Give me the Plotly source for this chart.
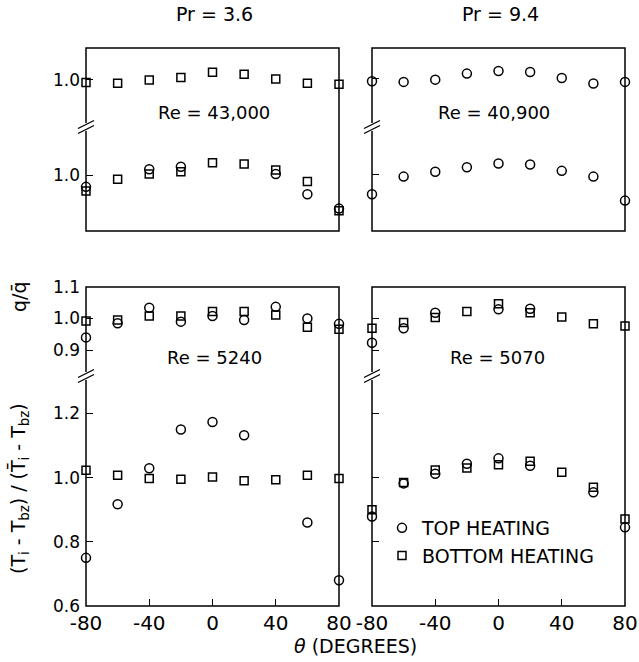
import plotly.graph_objects as go

# Angular position around the tube (degrees)
theta = [-80, -60, -40, -20, 0, 20, 40, 60, 80]

# Pr = 3.6, Re = 43,000
q_bottom_43000 = [0.992, 0.99, 1.00, 1.008, 1.024, 1.018, 1.003, 0.99, 0.987]
t_top_43000 = [0.963, None, 1.018, 1.026, None, None, 1.003, 0.94, 0.895]
t_bottom_43000 = [0.95, 0.987, 1.003, 1.01, 1.038, 1.034, 1.016, 0.98, 0.888]

# Pr = 9.4, Re = 40,900
q_top_40900 = [0.99, 0.988, 0.995, 1.014, 1.022, 1.019, 1.0, 0.983, 0.988]
t_top_40900 = [0.937, 0.992, 1.007, 1.021, 1.033, 1.030, 1.01, 0.992, 0.917]

# Pr = 3.6, Re = 5240
q_top_5240 = [0.94, 0.985, 1.034, 0.99, 1.008, 0.995, 1.037, 1.0, 0.983]
q_bottom_5240 = [0.992, 0.995, 1.008, 1.008, 1.022, 1.022, 1.011, 0.972, 0.966]
t_top_5240 = [0.75, 0.917, 1.029, 1.15, 1.173, 1.132, None, 0.86, 0.68]
t_bottom_5240 = [1.023, 1.007, 0.997, 0.995, 1.002, 0.99, 0.993, 1.007, 0.997]

# Pr = 9.4, Re = 5070
q_top_5070 = [0.923, 0.969, 1.018, None, 1.029, 1.031, None, None, None]
q_bottom_5070 = [0.969, 0.987, 1.003, 1.022, 1.047, 1.018, 1.005, 0.983, 0.976]
t_top_5070 = [0.879, 0.982, 1.012, 1.043, 1.06, 1.037, None, 0.954, 0.845]
t_bottom_5070 = [0.9, 0.985, 1.024, 1.03, 1.04, 1.051, 1.017, 0.97, 0.871]

x_ticks = [-80, -40, 0, 40, 80]
x_ticktext = ["-80", "-40", "0", "40", "80"]

W, H = 639, 662
FONT = "DejaVu Sans"


def px(x):
    return x / W


def py(y):
    return 1 - y / H


LX = (86, 339)
RX = (372, 625)
TOP = (48, 231)
TOP_BREAK = 127
BOT = (287, 606)
BOT_BREAK = 376

fig = go.Figure()

circle = dict(symbol="circle-open", size=9, color="black", line=dict(width=1.5, color="black"))
square = dict(symbol="square-open", size=8, color="black", line=dict(width=1.5, color="black"))

series = [
    # (values, marker, xaxis, yaxis, legend name)
    (q_bottom_43000, square, "x3", "y6", None),
    (t_top_43000, circle, "x3", "y5", None),
    (t_bottom_43000, square, "x3", "y5", None),
    (q_top_40900, circle, "x4", "y8", None),
    (t_top_40900, circle, "x4", "y7", None),
    (q_top_5240, circle, "x", "y2", None),
    (q_bottom_5240, square, "x", "y2", None),
    (t_top_5240, circle, "x", "y", None),
    (t_bottom_5240, square, "x", "y", None),
    (q_top_5070, circle, "x2", "y4", None),
    (q_bottom_5070, square, "x2", "y4", None),
    (t_top_5070, circle, "x2", "y3", "TOP HEATING"),
    (t_bottom_5070, square, "x2", "y3", "BOTTOM HEATING"),
]

for vals, mk, xa, ya, name in series:
    fig.add_trace(go.Scatter(
        x=theta, y=vals, mode="markers", marker=mk,
        xaxis=xa, yaxis=ya, cliponaxis=False,
        name=name if name else "", showlegend=bool(name),
        hoverinfo="x+y",
    ))

tick_style = dict(ticks="inside", ticklen=7, tickwidth=1.3, tickcolor="black",
                  showgrid=False, zeroline=False, showline=False, automargin=False,
                  tickfont=dict(family=FONT, size=17, color="black"))

x_common = dict(range=[-80, 80], tickvals=x_ticks, ticktext=x_ticktext,
                ticklabelstandoff=3, **tick_style)
x_common["tickfont"] = dict(family=FONT, size=20, color="black")

layout_axes = dict(
    xaxis=dict(domain=[px(LX[0]), px(LX[1])], anchor="y", **x_common),
    xaxis2=dict(domain=[px(RX[0]), px(RX[1])], anchor="y3", **x_common),
    xaxis3=dict(domain=[px(LX[0]), px(LX[1])], anchor="y5", range=[-80, 80],
                visible=False, automargin=False),
    xaxis4=dict(domain=[px(RX[0]), px(RX[1])], anchor="y7", range=[-80, 80],
                visible=False, automargin=False),
    # Re = 5240: temperature ratio (lower) and q/q-bar (upper)
    yaxis=dict(domain=[py(BOT[1]), py(BOT_BREAK)], anchor="x",
               range=[0.6, 0.6 + (BOT[1] - BOT_BREAK) / 321],
               tickvals=[0.6, 0.8, 1.0, 1.2], ticktext=["0.6", "0.8", "1.0", "1.2"],
               ticklabelstandoff=5, **tick_style),
    yaxis2=dict(domain=[py(BOT_BREAK), py(BOT[0])], anchor="x",
                range=[1.1 - (BOT_BREAK - BOT[0]) / 315, 1.1],
                tickvals=[0.9, 1.0, 1.1], ticktext=["0.9", "1.0", "1.1"],
                ticklabelstandoff=5, **tick_style),
    # Re = 5070
    yaxis3=dict(domain=[py(BOT[1]), py(BOT_BREAK)], anchor="x2",
                range=[0.6, 0.6 + (BOT[1] - BOT_BREAK) / 321],
                tickvals=[0.8, 1.0, 1.2], showticklabels=False, **tick_style),
    yaxis4=dict(domain=[py(BOT_BREAK), py(BOT[0])], anchor="x2",
                range=[1.1 - (BOT_BREAK - BOT[0]) / 315, 1.1],
                tickvals=[0.9, 1.0], showticklabels=False, **tick_style),
    # Re = 43,000
    yaxis5=dict(domain=[py(TOP[1]), py(TOP_BREAK)], anchor="x3",
                range=[0.825, 1.15], tickvals=[1.0], ticktext=["1.0"],
                ticklabelstandoff=5, **tick_style),
    yaxis6=dict(domain=[py(TOP_BREAK), py(TOP[0])], anchor="x3",
                range=[0.853, 1.1], tickvals=[1.0], ticktext=["1.0"],
                ticklabelstandoff=5, **tick_style),
    # Re = 40,900
    yaxis7=dict(domain=[py(TOP[1]), py(TOP_BREAK)], anchor="x4",
                range=[0.822, 1.147], tickvals=[1.0], showticklabels=False, **tick_style),
    yaxis8=dict(domain=[py(TOP_BREAK), py(TOP[0])], anchor="x4",
                range=[0.847, 1.094], tickvals=[1.0], showticklabels=False, **tick_style),
)

shapes = []
# panel frames
for (x0, x1) in (LX, RX):
    for (y0, y1) in (TOP, BOT):
        shapes.append(dict(type="rect", xref="paper", yref="paper",
                           x0=px(x0), x1=px(x1), y0=py(y1), y1=py(y0),
                           line=dict(color="black", width=1.5), layer="below"))
# axis breaks on the left frame of each panel
for bx in (LX[0], RX[0]):
    for by in (TOP_BREAK, BOT_BREAK):
        shapes.append(dict(type="line", xref="paper", yref="paper",
                           x0=px(bx), x1=px(bx), y0=py(by + 4), y1=py(by - 4),
                           line=dict(color="white", width=4), layer="below"))
        for cy in (by - 2.5, by + 2.5):
            shapes.append(dict(type="line", xref="paper", yref="paper",
                               x0=px(bx - 8), x1=px(bx + 8), y0=py(cy + 4), y1=py(cy - 4),
                               line=dict(color="black", width=1.3), layer="below"))

annotations = [
    dict(text="Pr = 3.6", x=px(214), y=py(14), size=19),
    dict(text="Pr = 9.4", x=px(500), y=py(14), size=19),
    dict(text="Re = 43,000", x=px(214), y=py(112), size=18),
    dict(text="Re = 40,900", x=px(494), y=py(112), size=18),
    dict(text="Re = 5240", x=px(214), y=py(357), size=18),
    dict(text="Re = 5070", x=px(497), y=py(357), size=18),
    dict(text="<i>θ</i> (DEGREES)", x=px(355), y=py(646), size=19),
    dict(text="q/q\u0304", x=px(19), y=py(297), textangle=-90, size=19),
    dict(text="(T<sub>i</sub> - T<sub>bz</sub>) / (T\u0304<sub>i</sub> - T<sub>bz</sub>)",
         x=px(19), y=py(489), textangle=-90, size=19),
]
for a in annotations:
    size = a.pop("size", 17)
    a.update(xref="paper", yref="paper", showarrow=False,
             font=dict(family=FONT, size=size, color="black"),
             xanchor="center", yanchor="middle")

fig.update_layout(
    width=W, height=H,
    margin=dict(l=0, r=0, t=0, b=0, autoexpand=False),
    paper_bgcolor="white", plot_bgcolor="rgba(0,0,0,0)",
    font=dict(family=FONT, color="black"),
    shapes=shapes, annotations=annotations,
    legend=dict(x=px(382), y=py(509), xanchor="left", yanchor="top",
                bgcolor="rgba(0,0,0,0)", font=dict(family=FONT, size=19, color="black"),
                tracegroupgap=0, itemwidth=30),
    **layout_axes,
)

fig.write_html("out.html")
